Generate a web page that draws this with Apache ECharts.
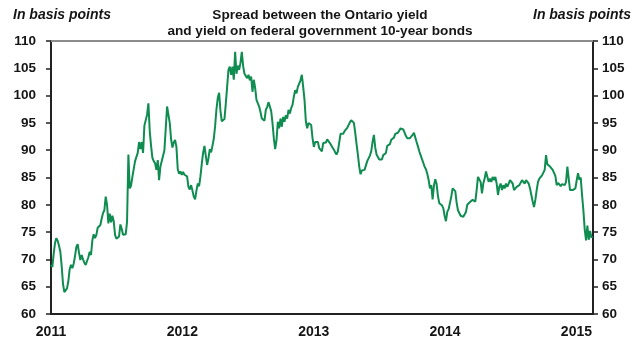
<!DOCTYPE html>
<html>
<head>
<meta charset="utf-8">
<title>Ontario spread</title>
<script src="https://cdn.jsdelivr.net/npm/echarts@6/dist/echarts.min.js"></script>
<style>
  html, body { margin: 0; padding: 0; background: #fff; }
  #chart { width: 639px; height: 341px; }
</style>
</head>
<body>
<div id="chart"></div>
<script>
// Ontario minus federal 10-year yield spread, basis points,
// one reading roughly every 3.7 days starting 1 Jan 2011.
const spread2011 = [
  69.0, 68.6, 71.0, 73.0, 73.9, 73.4, 72.5, 71.4, 68.8, 65.5,
  64.0, 63.7, 64.7, 66.0, 68.2, 69.0, 68.4, 69.2, 70.6, 72.3,
  72.8, 71.2, 69.9, 70.8, 70.0, 69.4, 69.0, 69.7, 70.4, 71.4,
  70.8, 73.5, 74.6, 73.9, 74.5, 75.8, 76.0, 76.3, 77.5, 78.5,
  79.0, 81.5, 80.0, 76.6, 78.4, 76.8, 78.0, 77.0, 74.5, 73.8,
  73.6, 74.2, 76.4, 75.6, 74.5, 74.2, 74.6, 76.9, 89.2, 83.0,
  83.5, 85.1, 85.4, 88.0, 88.0, 89.5, 91.5, 90.2, 91.5, 89.5,
  94.5, 94.2, 96.5, 98.6, 93.5, 90.8, 88.6, 88.0, 87.6, 86.4,
  88.2, 84.5, 87.0, 86.8, 89.0, 90.0, 94.0, 98.0, 98.3, 95.0,
  92.0, 90.5, 91.4, 91.9, 90.6, 86.5, 85.7, 86.1, 85.5
];
const spread2012 = [
  86.0, 85.5, 85.4, 85.2, 83.3, 82.8, 83.6, 82.6, 81.5, 81.0,
  82.6, 83.9, 83.4, 85.2, 87.5, 89.5, 90.8, 89.0, 87.3, 88.5,
  90.2, 89.6, 90.8, 92.1, 94.4, 97.5, 99.6, 100.5, 97.2, 95.3,
  95.0, 95.7, 98.5, 101.6, 104.7, 105.3, 103.8, 105.3, 102.9, 108.0,
  104.0, 105.5, 104.7, 106.0, 108.0, 105.4, 104.0, 104.2, 103.2, 103.8,
  102.8, 103.5, 100.7, 102.9, 101.4, 99.2, 99.5, 98.0, 97.0, 95.8,
  95.5, 95.4, 97.4, 97.9, 98.8, 98.5, 97.2, 95.0, 92.2, 90.2,
  91.8, 95.2, 94.0, 95.8, 94.3, 96.1, 95.2, 96.4, 95.8, 97.4,
  96.7, 97.7, 98.3, 99.8, 101.0, 100.4, 101.6, 102.2, 102.8, 103.8,
  101.6, 99.2, 95.3, 94.0, 95.0, 95.0, 94.6, 92.2
];
const spread2013 = [
  90.6, 91.5, 91.4, 91.5, 90.4, 90.3, 89.8, 91.3, 91.5, 91.4,
  92.0, 91.9, 91.3, 91.3, 90.5, 90.1, 89.6, 89.2, 89.8, 91.4,
  93.0, 93.2, 93.0, 93.5, 93.3, 94.1, 94.6, 95.1, 95.5, 95.8,
  95.0, 93.2, 91.1, 89.2, 87.0, 85.6, 86.3, 86.5, 86.4, 86.5,
  88.0, 88.2, 89.0, 89.8, 91.5, 92.8, 90.5, 89.2, 89.0, 88.3,
  88.0, 88.3, 89.1, 89.2, 89.5, 90.8, 91.1, 91.1, 91.9, 92.0,
  92.3, 93.0, 93.0, 93.2, 93.5, 94.0, 94.1, 93.8, 93.2, 92.6,
  92.2, 92.3, 92.2, 92.0, 92.8, 93.2, 93.0, 91.5, 90.7, 89.8,
  89.1, 88.8, 87.7, 87.0, 86.5, 85.7, 84.6, 83.0, 83.6, 81.0,
  83.5, 84.7, 83.8, 81.6, 80.3, 80.0, 79.9, 79.4, 78.0
];
const spread2014 = [
  77.0, 78.7, 79.2, 79.5, 81.5, 83.0, 83.0, 82.5, 80.4, 79.0,
  78.8, 78.0, 77.8, 77.8, 77.6, 78.7, 80.0, 80.3, 80.5, 80.6,
  80.9, 81.2, 80.6, 82.7, 85.1, 85.4, 84.2, 82.1, 83.9, 84.8,
  86.1, 85.8, 84.2, 84.8, 84.2, 85.1, 84.5, 85.1, 83.9, 81.8,
  83.3, 83.9, 82.7, 83.6, 83.0, 83.9, 83.3, 83.9, 84.5, 84.8,
  83.9, 82.7, 82.4, 83.3, 83.0, 83.6, 83.9, 84.5, 84.8, 83.9,
  84.5, 84.2, 83.9, 83.0, 81.8, 80.6, 79.6, 80.9, 82.7, 84.2,
  84.8, 84.5, 85.4, 85.1, 86.4, 89.1, 87.4, 87.1, 87.0, 86.7,
  86.4, 86.1, 85.3, 83.6, 84.0, 84.2, 83.4, 83.8, 84.0, 83.6,
  84.2, 87.0, 84.8, 82.7, 82.4, 82.7, 82.4, 83.0
];
const spread2015 = [
  84.5, 85.8, 84.6, 85.0, 81.8, 79.0, 75.5, 73.5, 76.2, 73.6,
  75.2, 74.0, 74.2
];

const yearLabels = ['2011', '2012', '2013', '2014', '2015'];
const yTicks = [60, 65, 70, 75, 80, 85, 90, 95, 100, 105, 110];
const titleLines = [
  'Spread between the Ontario yield',
  'and yield on federal government 10-year bonds'
];
const unitLabel = 'In basis points';

const FIRST_YEAR = 2011;
const STEP_DAYS = 3.71;
const AXIS_END = 2015 + 46 / 365;   // mid-February 2015

const spreadBp = [].concat(spread2011, spread2012, spread2013, spread2014, spread2015);
const points = spreadBp.map((v, i) => [FIRST_YEAR + i * STEP_DAYS / 365.25, v]);

const FONT = '"Liberation Sans", Arial, sans-serif';
const INK = '#151515';

function yAxisSpec(side, margin) {
  return {
    type: 'value',
    position: side,
    min: yTicks[0],
    max: yTicks[yTicks.length - 1],
    interval: yTicks[1] - yTicks[0],
    axisLine: { show: true, lineStyle: { color: '#222', width: 2 } },
    axisTick: { show: true, length: 5, lineStyle: { color: '#222', width: 1.5 } },
    axisLabel: {
      margin: margin,
      color: INK,
      fontFamily: FONT,
      fontWeight: 'bold',
      fontSize: 13.5
    },
    splitLine: { show: false }
  };
}

function textEl(text, x, y, align, italic, size) {
  return {
    type: 'text',
    x: x,
    y: y,
    silent: true,
    style: {
      text: text,
      fill: INK,
      fontFamily: FONT,
      fontWeight: 'bold',
      fontStyle: italic ? 'italic' : 'normal',
      fontSize: size,
      align: align,
      verticalAlign: 'middle'
    }
  };
}

const chart = echarts.init(document.getElementById('chart'), null, { renderer: 'canvas' });

chart.setOption({
  animation: false,
  backgroundColor: '#ffffff',
  graphic: [
    textEl(titleLines[0], 320, 15, 'center', false, 13.6),
    textEl(titleLines[1], 320, 31, 'center', false, 13.6),
    textEl(unitLabel, 13, 15, 'left', true, 14),
    textEl(unitLabel, 631, 15, 'right', true, 14)
  ],
  grid: { left: 51, right: 46, top: 41, bottom: 27, containLabel: false },
  xAxis: [
    {
      type: 'value',
      position: 'bottom',
      min: FIRST_YEAR,
      max: AXIS_END,
      interval: 1,
      axisLine: { show: true, onZero: false, lineStyle: { color: '#222', width: 2 } },
      axisTick: { show: false },
      splitLine: { show: false },
      axisLabel: {
        margin: 11,
        color: INK,
        fontFamily: FONT,
        fontWeight: 'bold',
        fontSize: 14,
        showMaxLabel: false,
        formatter: v => {
          const idx = Math.round(v) - FIRST_YEAR;
          return Math.abs(v - Math.round(v)) < 1e-6 && yearLabels[idx] ? yearLabels[idx] : '';
        }
      }
    },
    {
      type: 'value',
      position: 'top',
      min: FIRST_YEAR,
      max: AXIS_END,
      axisLine: { show: true, onZero: false, lineStyle: { color: '#8c8c8c', width: 2 } },
      axisTick: { show: false },
      axisLabel: { show: false },
      splitLine: { show: false }
    }
  ],
  yAxis: [yAxisSpec('left', 15), yAxisSpec('right', 9)],
  series: [
    {
      type: 'line',
      xAxisIndex: 0,
      yAxisIndex: 0,
      data: points,
      showSymbol: false,
      smooth: false,
      lineStyle: { color: '#0f8c50', width: 2 },
      itemStyle: { color: '#0f8c50' }
    }
  ]
});
</script>
</body>
</html>
